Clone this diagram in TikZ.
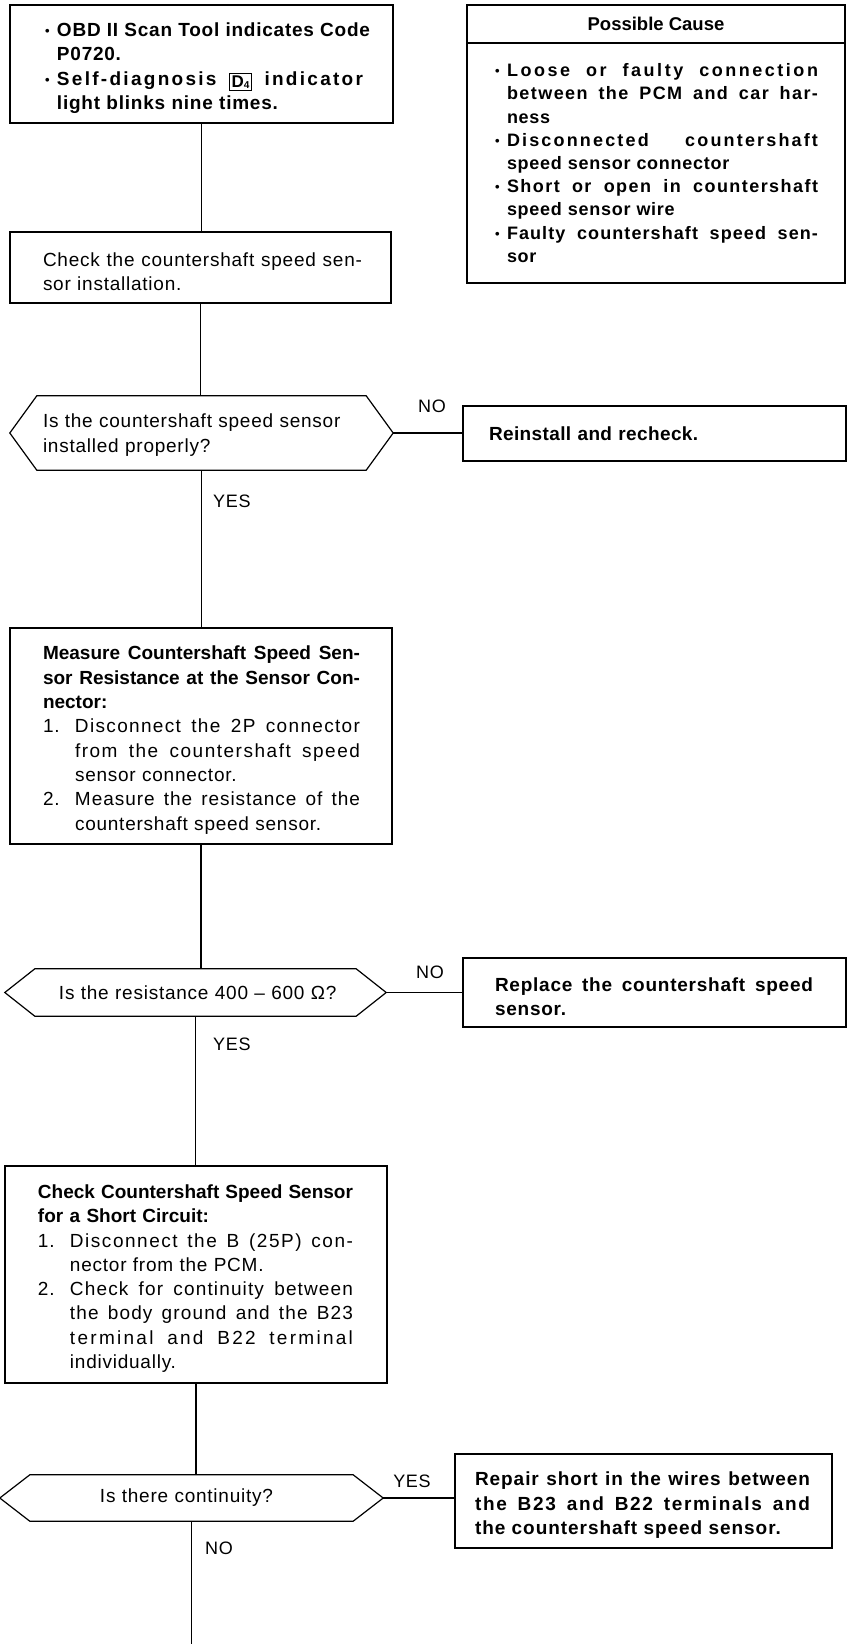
\documentclass[tikz,border=0pt]{standalone}
\usepackage{fontspec}
\setmainfont{Liberation Sans}[LetterSpace=4]
\newfontfamily\hdfont{Liberation Sans}
\usetikzlibrary{calc}
\newcommand{\JB}[3][4]{\makebox[#2pt][s]{\addfontfeature{LetterSpace=#1}\spaceskip=0.28em plus 10em minus 0.08em\relax #3}}
\newcommand{\JH}[2]{\makebox[#1pt][s]{\spaceskip=0.28em plus 10em minus 0.08em\relax #2}}
\newcommand{\LJ}[4][4]{\hspace*{#2pt}\JB[#1]{#3}{#4}}
\newcommand{\LL}[2]{\hspace*{#1pt}{#2}}
\newcommand{\fs}{\rule{0pt}{22pt}}
\newcommand{\bul}{\makebox[12pt][l]{\raisebox{1pt}{\fontsize{13}{13}\selectfont\textbullet}}}
\newcommand{\numb}[1]{\makebox[32pt][l]{#1}}
\newcommand{\Dfour}{\raisebox{-2.5pt}{\setlength{\fboxsep}{1.5pt}\setlength{\fboxrule}{1pt}\fbox{\addfontfeature{LetterSpace=0}\fontsize{17}{17}\selectfont D\raisebox{-0.5pt}{\fontsize{10}{10}\selectfont 4}}}}
\newcommand{\hexo}[2]{\draw[conn] ([xshift=#2]#1.north west) -- ([xshift=-#2]#1.north east) -- (#1.east) -- ([xshift=-#2]#1.south east) -- ([xshift=#2]#1.south west) -- (#1.west) -- cycle;}
\tikzset{
  conn/.style={line width=1.2pt},
  boxn/.style={draw, line width=1.2pt, rectangle, inner sep=0pt, align=left, font=\fontsize{19}{24.3}\selectfont},
  hexn/.style={rectangle, inner sep=0pt, align=left, font=\fontsize{19}{24.3}\selectfont},
  lab/.style={inner sep=0pt, font=\fontsize{18}{20}\selectfont}
}
\begin{document}
\begin{tikzpicture}[x=1pt,y=-1pt]
\fill[white] (0,0) rectangle (847,1644);
\useasboundingbox (0,0) rectangle (847,1644);

% top box
\node[boxn, font=\fontsize{19}{24.3}\selectfont\bfseries, text width=383pt, minimum width=383pt, minimum height=118pt] (b1) at (201.5,64) {%
\LJ{35}{325}{\fs\bul OBD II Scan Tool indicates Code}\\
\LL{47}{P0720.}\\
\LJ[12]{35}{318}{\bul Self-diagnosis \Dfour{} indicator}\\
\LL{47}{light blinks nine times.}};

% possible cause
\node[draw, line width=1.2pt, rectangle, inner sep=0pt, minimum width=378pt, minimum height=278pt] (cause) at (656,144) {};
\node[inner sep=0pt, font=\hdfont\fontsize{18.5}{20}\selectfont\bfseries] (chead) at (656,24) {Possible Cause};
\draw[conn] (cause.west |- 0,43) -- (cause.east |- 0,43);
\node[hexn, font=\fontsize{18}{23.2}\selectfont\bfseries, text width=378pt, minimum width=378pt, minimum height=240pt] (cbody) at (656,163) {%
\LJ[14]{28}{323}{\bul Loose or faulty connection}\\
\LJ[8]{40}{311}{between the PCM and car har-}\\
\LL{40}{ness}\\
\LJ[12]{28}{323}{\bul Disconnected countershaft}\\
\LL{40}{speed sensor connector}\\
\LJ[8]{28}{323}{\bul Short or open in countershaft}\\
\LL{40}{speed sensor wire}\\
\LJ[6]{28}{323}{\bul Faulty countershaft speed sen-}\\
\LL{40}{sor}};

% box 2
\node[boxn, text width=381pt, minimum width=381pt, minimum height=71pt] (b2) at (200.5,267.5) {%
\LJ{33}{319}{\fs Check the countershaft speed sen-}\\
\LL{33}{sor installation.}};

% hex 1
\node[hexn, text width=383pt, minimum width=383pt, minimum height=74pt] (h1) at (201.5,433) {%
\LL{33}{\rule{0pt}{18pt}Is the countershaft speed sensor}\\
\LL{33}{installed properly?}};
\hexo{h1}{27pt}

\node[boxn, font=\hdfont\fontsize{19}{24.3}\selectfont\bfseries, text width=383pt, minimum width=383pt, minimum height=55pt] (r1) at (654.5,433.5) {\LL{26}{\addfontfeature{LetterSpace=2}Reinstall and recheck.}};
\node[lab] (no1) at (432,406) {NO};
\node[lab, anchor=west] (yes1) at (213,501) {YES};

% box 3
\node[boxn, text width=382pt, minimum width=382pt, minimum height=216pt] (b3) at (201,736) {%
\hspace*{33pt}\JH{317}{\fs\hdfont\bfseries Measure Countershaft Speed Sen-}\\
\hspace*{33pt}\JH{317}{\hdfont\bfseries sor Resistance at the Sensor Con-}\\
\LL{33}{\hdfont\bfseries nector:}\\
\LL{33}{\numb{1.}\JB[7]{285}{Disconnect the 2P connector}}\\
\LJ[8]{65}{285}{from the countershaft speed}\\
\LL{65}{sensor connector.}\\
\LL{33}{\numb{2.}\JB[5]{285}{Measure the resistance of the}}\\
\LL{65}{countershaft speed sensor.}};

% hex 2
\node[hexn, text width=381pt, minimum width=381pt, minimum height=47pt] (h2) at (195.5,992.5) {\LL{54}{Is the resistance 400 – 600 Ω?}};
\hexo{h2}{30pt}
\node[boxn, font=\hdfont\fontsize{19}{24.3}\selectfont\bfseries, text width=383pt, minimum width=383pt, minimum height=69pt] (r2) at (654.5,992.5) {%
\LJ[4]{32}{318}{\fs Replace the countershaft speed}\\
\LL{32}{\addfontfeature{LetterSpace=4}sensor.}};
\node[lab] (no2) at (430,972) {NO};
\node[lab, anchor=west] (yes2) at (213,1044) {YES};

% box 4
\node[boxn, text width=382pt, minimum width=382pt, minimum height=217pt] (b4) at (196,1274.5) {%
\hspace*{33pt}\JH{315}{\fs\hdfont\bfseries Check Countershaft Speed Sensor}\\
\LL{33}{\hdfont\bfseries for a Short Circuit:}\\
\LL{33}{\numb{1.}\JB[8]{283}{Disconnect the B (25P) con-}}\\
\LL{65}{nector from the PCM.}\\
\LL{33}{\numb{2.}\JB[6]{283}{Check for continuity between}}\\
\LJ[6]{65}{283}{the body ground and the B23}\\
\LJ[12]{65}{283}{terminal and B22 terminal}\\
\LL{65}{individually.}};

% hex 3
\node[hexn, text width=383pt, minimum width=383pt, minimum height=46pt] (h3) at (191.5,1498) {\LL{100}{Is there continuity?}};
\hexo{h3}{30pt}
\node[boxn, font=\hdfont\fontsize{19}{24.3}\selectfont\bfseries, text width=377pt, minimum width=377pt, minimum height=94pt] (r3) at (643.5,1501) {%
\LJ[5]{20}{335}{\fs Repair short in the wires between}\\
\LJ[9]{20}{335}{the B23 and B22 terminals and}\\
\LL{20}{\addfontfeature{LetterSpace=5}the countershaft speed sensor.}};
\node[lab] (yes3) at (412,1481) {YES};
\node[lab, anchor=west] (no3) at (205,1548) {NO};
\coordinate (endp) at (191.5,1644);

% connectors
\draw[conn] (b1.south) -- (b1.south |- b2.north);
\draw[conn] (b2.south) -- (b2.south |- h1.north);
\draw[conn] (h1.south) -- (h1.south |- b3.north);
\draw[conn] (h1.east) -- (h1.east -| r1.west);
\draw[conn] (b3.south) -- (b3.south |- h2.north);
\draw[conn] (h2.east) -- (h2.east -| r2.west);
\draw[conn] (h2.south) -- (h2.south |- b4.north);
\draw[conn] (b4.south) -- (b4.south |- h3.north);
\draw[conn] (h3.east) -- (h3.east -| r3.west);
\draw[conn] (h3.south) -- (endp);
\end{tikzpicture}
\end{document}
